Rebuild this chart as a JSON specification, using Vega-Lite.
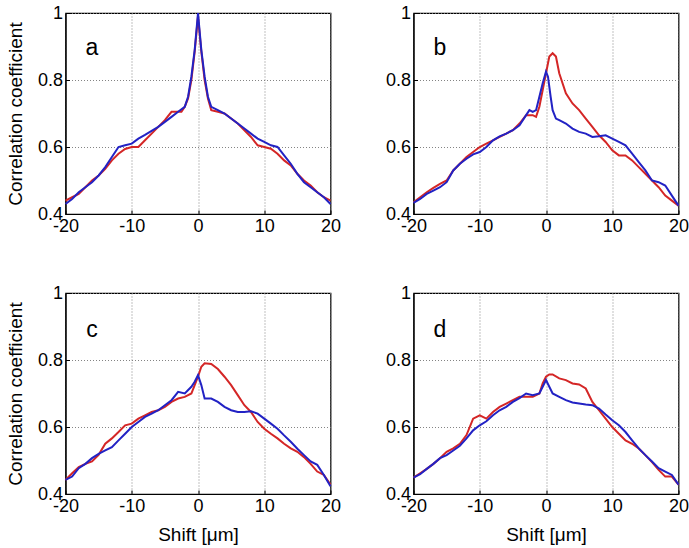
{
  "$schema": "https://vega.github.io/schema/vega-lite/v6.json",
  "background": "white",
  "padding": {"left": 5.5, "top": 3, "right": 0, "bottom": 0},
  "columns": 2,
  "spacing": {"row": 79, "column": 83},
  "bounds": "flush",
  "datasets": {
    "curves": [
      {"panel":"a","series":"red","x":-20,"y":0.44},{"panel":"a","series":"red","x":-19,"y":0.45},{"panel":"a","series":"red","x":-18,"y":0.46},{"panel":"a","series":"red","x":-17,"y":0.48},{"panel":"a","series":"red","x":-16,"y":0.5},{"panel":"a","series":"red","x":-15,"y":0.515},{"panel":"a","series":"red","x":-14,"y":0.535},{"panel":"a","series":"red","x":-13,"y":0.56},{"panel":"a","series":"red","x":-12,"y":0.58},{"panel":"a","series":"red","x":-11,"y":0.594},{"panel":"a","series":"red","x":-10,"y":0.6},{"panel":"a","series":"red","x":-9,"y":0.6},{"panel":"a","series":"red","x":-8,"y":0.62},{"panel":"a","series":"red","x":-7,"y":0.64},{"panel":"a","series":"red","x":-6,"y":0.66},{"panel":"a","series":"red","x":-5,"y":0.68},{"panel":"a","series":"red","x":-4,"y":0.705},{"panel":"a","series":"red","x":-3,"y":0.705},{"panel":"a","series":"red","x":-2.5,"y":0.705},{"panel":"a","series":"red","x":-2,"y":0.72},{"panel":"a","series":"red","x":-1.5,"y":0.745},{"panel":"a","series":"red","x":-1,"y":0.8},{"panel":"a","series":"red","x":-0.5,"y":0.885},{"panel":"a","series":"red","x":0,"y":0.99},{"panel":"a","series":"red","x":0.5,"y":0.885},{"panel":"a","series":"red","x":1,"y":0.8},{"panel":"a","series":"red","x":1.5,"y":0.745},{"panel":"a","series":"red","x":2,"y":0.71},{"panel":"a","series":"red","x":3,"y":0.705},{"panel":"a","series":"red","x":4,"y":0.7},{"panel":"a","series":"red","x":5,"y":0.685},{"panel":"a","series":"red","x":6,"y":0.67},{"panel":"a","series":"red","x":7,"y":0.65},{"panel":"a","series":"red","x":8,"y":0.63},{"panel":"a","series":"red","x":9,"y":0.605},{"panel":"a","series":"red","x":10,"y":0.6},{"panel":"a","series":"red","x":11,"y":0.595},{"panel":"a","series":"red","x":12,"y":0.58},{"panel":"a","series":"red","x":13,"y":0.56},{"panel":"a","series":"red","x":14,"y":0.545},{"panel":"a","series":"red","x":15,"y":0.52},{"panel":"a","series":"red","x":16,"y":0.5},{"panel":"a","series":"red","x":17,"y":0.485},{"panel":"a","series":"red","x":18,"y":0.465},{"panel":"a","series":"red","x":19,"y":0.45},{"panel":"a","series":"red","x":20,"y":0.44},

      {"panel":"a","series":"blue","x":-20,"y":0.43},{"panel":"a","series":"blue","x":-19,"y":0.445},{"panel":"a","series":"blue","x":-18,"y":0.465},{"panel":"a","series":"blue","x":-17,"y":0.48},{"panel":"a","series":"blue","x":-16,"y":0.495},{"panel":"a","series":"blue","x":-15,"y":0.515},{"panel":"a","series":"blue","x":-14,"y":0.54},{"panel":"a","series":"blue","x":-13,"y":0.57},{"panel":"a","series":"blue","x":-12,"y":0.6},{"panel":"a","series":"blue","x":-11,"y":0.605},{"panel":"a","series":"blue","x":-10,"y":0.61},{"panel":"a","series":"blue","x":-9,"y":0.625},{"panel":"a","series":"blue","x":-8,"y":0.636},{"panel":"a","series":"blue","x":-7,"y":0.648},{"panel":"a","series":"blue","x":-6,"y":0.66},{"panel":"a","series":"blue","x":-5,"y":0.675},{"panel":"a","series":"blue","x":-4,"y":0.69},{"panel":"a","series":"blue","x":-3,"y":0.705},{"panel":"a","series":"blue","x":-2,"y":0.72},{"panel":"a","series":"blue","x":-1.5,"y":0.75},{"panel":"a","series":"blue","x":-1,"y":0.81},{"panel":"a","series":"blue","x":-0.5,"y":0.89},{"panel":"a","series":"blue","x":0,"y":1.0},{"panel":"a","series":"blue","x":0.5,"y":0.89},{"panel":"a","series":"blue","x":1,"y":0.81},{"panel":"a","series":"blue","x":1.5,"y":0.75},{"panel":"a","series":"blue","x":2,"y":0.72},{"panel":"a","series":"blue","x":3,"y":0.71},{"panel":"a","series":"blue","x":4,"y":0.7},{"panel":"a","series":"blue","x":5,"y":0.685},{"panel":"a","series":"blue","x":6,"y":0.67},{"panel":"a","series":"blue","x":7,"y":0.655},{"panel":"a","series":"blue","x":8,"y":0.64},{"panel":"a","series":"blue","x":9,"y":0.625},{"panel":"a","series":"blue","x":10,"y":0.615},{"panel":"a","series":"blue","x":11,"y":0.605},{"panel":"a","series":"blue","x":12,"y":0.6},{"panel":"a","series":"blue","x":13,"y":0.575},{"panel":"a","series":"blue","x":14,"y":0.55},{"panel":"a","series":"blue","x":15,"y":0.52},{"panel":"a","series":"blue","x":16,"y":0.495},{"panel":"a","series":"blue","x":17,"y":0.48},{"panel":"a","series":"blue","x":18,"y":0.465},{"panel":"a","series":"blue","x":19,"y":0.45},{"panel":"a","series":"blue","x":20,"y":0.43},

      {"panel":"b","series":"red","x":-20,"y":0.435},{"panel":"b","series":"red","x":-19,"y":0.45},{"panel":"b","series":"red","x":-18,"y":0.465},{"panel":"b","series":"red","x":-17,"y":0.478},{"panel":"b","series":"red","x":-16,"y":0.49},{"panel":"b","series":"red","x":-15,"y":0.5},{"panel":"b","series":"red","x":-14,"y":0.53},{"panel":"b","series":"red","x":-13,"y":0.55},{"panel":"b","series":"red","x":-12,"y":0.57},{"panel":"b","series":"red","x":-11,"y":0.585},{"panel":"b","series":"red","x":-10,"y":0.6},{"panel":"b","series":"red","x":-9,"y":0.61},{"panel":"b","series":"red","x":-8,"y":0.62},{"panel":"b","series":"red","x":-7,"y":0.63},{"panel":"b","series":"red","x":-6,"y":0.64},{"panel":"b","series":"red","x":-5,"y":0.65},{"panel":"b","series":"red","x":-4,"y":0.67},{"panel":"b","series":"red","x":-3,"y":0.695},{"panel":"b","series":"red","x":-2,"y":0.695},{"panel":"b","series":"red","x":-1.5,"y":0.69},{"panel":"b","series":"red","x":-1,"y":0.72},{"panel":"b","series":"red","x":-0.5,"y":0.77},{"panel":"b","series":"red","x":0,"y":0.82},{"panel":"b","series":"red","x":0.5,"y":0.87},{"panel":"b","series":"red","x":1,"y":0.88},{"panel":"b","series":"red","x":1.5,"y":0.87},{"panel":"b","series":"red","x":2,"y":0.82},{"panel":"b","series":"red","x":3,"y":0.76},{"panel":"b","series":"red","x":4,"y":0.73},{"panel":"b","series":"red","x":5,"y":0.71},{"panel":"b","series":"red","x":6,"y":0.685},{"panel":"b","series":"red","x":7,"y":0.66},{"panel":"b","series":"red","x":8,"y":0.635},{"panel":"b","series":"red","x":9,"y":0.615},{"panel":"b","series":"red","x":10,"y":0.59},{"panel":"b","series":"red","x":11,"y":0.575},{"panel":"b","series":"red","x":12,"y":0.575},{"panel":"b","series":"red","x":13,"y":0.56},{"panel":"b","series":"red","x":14,"y":0.54},{"panel":"b","series":"red","x":15,"y":0.52},{"panel":"b","series":"red","x":16,"y":0.5},{"panel":"b","series":"red","x":17,"y":0.48},{"panel":"b","series":"red","x":18,"y":0.455},{"panel":"b","series":"red","x":19,"y":0.44},{"panel":"b","series":"red","x":20,"y":0.425},

      {"panel":"b","series":"blue","x":-20,"y":0.433},{"panel":"b","series":"blue","x":-19,"y":0.445},{"panel":"b","series":"blue","x":-18,"y":0.46},{"panel":"b","series":"blue","x":-17,"y":0.47},{"panel":"b","series":"blue","x":-16,"y":0.48},{"panel":"b","series":"blue","x":-15,"y":0.495},{"panel":"b","series":"blue","x":-14,"y":0.53},{"panel":"b","series":"blue","x":-13,"y":0.55},{"panel":"b","series":"blue","x":-12,"y":0.565},{"panel":"b","series":"blue","x":-11,"y":0.578},{"panel":"b","series":"blue","x":-10,"y":0.585},{"panel":"b","series":"blue","x":-9,"y":0.6},{"panel":"b","series":"blue","x":-8,"y":0.62},{"panel":"b","series":"blue","x":-7,"y":0.632},{"panel":"b","series":"blue","x":-6,"y":0.64},{"panel":"b","series":"blue","x":-5,"y":0.65},{"panel":"b","series":"blue","x":-4,"y":0.665},{"panel":"b","series":"blue","x":-3,"y":0.695},{"panel":"b","series":"blue","x":-2.5,"y":0.71},{"panel":"b","series":"blue","x":-2,"y":0.705},{"panel":"b","series":"blue","x":-1.5,"y":0.71},{"panel":"b","series":"blue","x":-1,"y":0.75},{"panel":"b","series":"blue","x":-0.5,"y":0.79},{"panel":"b","series":"blue","x":0,"y":0.825},{"panel":"b","series":"blue","x":0.3,"y":0.81},{"panel":"b","series":"blue","x":0.7,"y":0.75},{"panel":"b","series":"blue","x":1,"y":0.71},{"panel":"b","series":"blue","x":1.5,"y":0.685},{"panel":"b","series":"blue","x":2,"y":0.68},{"panel":"b","series":"blue","x":3,"y":0.67},{"panel":"b","series":"blue","x":4,"y":0.655},{"panel":"b","series":"blue","x":5,"y":0.645},{"panel":"b","series":"blue","x":6,"y":0.64},{"panel":"b","series":"blue","x":7,"y":0.63},{"panel":"b","series":"blue","x":8,"y":0.632},{"panel":"b","series":"blue","x":9,"y":0.635},{"panel":"b","series":"blue","x":10,"y":0.625},{"panel":"b","series":"blue","x":11,"y":0.615},{"panel":"b","series":"blue","x":12,"y":0.605},{"panel":"b","series":"blue","x":13,"y":0.58},{"panel":"b","series":"blue","x":14,"y":0.555},{"panel":"b","series":"blue","x":15,"y":0.53},{"panel":"b","series":"blue","x":16,"y":0.5},{"panel":"b","series":"blue","x":17,"y":0.495},{"panel":"b","series":"blue","x":18,"y":0.485},{"panel":"b","series":"blue","x":19,"y":0.455},{"panel":"b","series":"blue","x":20,"y":0.425},

      {"panel":"c","series":"red","x":-20,"y":0.442},{"panel":"c","series":"red","x":-19,"y":0.462},{"panel":"c","series":"red","x":-18,"y":0.48},{"panel":"c","series":"red","x":-17,"y":0.49},{"panel":"c","series":"red","x":-16,"y":0.497},{"panel":"c","series":"red","x":-15,"y":0.517},{"panel":"c","series":"red","x":-14,"y":0.55},{"panel":"c","series":"red","x":-13,"y":0.566},{"panel":"c","series":"red","x":-12,"y":0.585},{"panel":"c","series":"red","x":-11,"y":0.605},{"panel":"c","series":"red","x":-10,"y":0.61},{"panel":"c","series":"red","x":-9,"y":0.625},{"panel":"c","series":"red","x":-8,"y":0.635},{"panel":"c","series":"red","x":-7,"y":0.645},{"panel":"c","series":"red","x":-6,"y":0.65},{"panel":"c","series":"red","x":-5,"y":0.66},{"panel":"c","series":"red","x":-4,"y":0.675},{"panel":"c","series":"red","x":-3,"y":0.685},{"panel":"c","series":"red","x":-2,"y":0.69},{"panel":"c","series":"red","x":-1,"y":0.7},{"panel":"c","series":"red","x":-0.5,"y":0.725},{"panel":"c","series":"red","x":0,"y":0.75},{"panel":"c","series":"red","x":0.5,"y":0.78},{"panel":"c","series":"red","x":1,"y":0.79},{"panel":"c","series":"red","x":2,"y":0.788},{"panel":"c","series":"red","x":3,"y":0.773},{"panel":"c","series":"red","x":4,"y":0.75},{"panel":"c","series":"red","x":5,"y":0.725},{"panel":"c","series":"red","x":6,"y":0.695},{"panel":"c","series":"red","x":7,"y":0.665},{"panel":"c","series":"red","x":8,"y":0.645},{"panel":"c","series":"red","x":9,"y":0.615},{"panel":"c","series":"red","x":10,"y":0.595},{"panel":"c","series":"red","x":11,"y":0.58},{"panel":"c","series":"red","x":12,"y":0.566},{"panel":"c","series":"red","x":13,"y":0.55},{"panel":"c","series":"red","x":14,"y":0.536},{"panel":"c","series":"red","x":15,"y":0.526},{"panel":"c","series":"red","x":16,"y":0.51},{"panel":"c","series":"red","x":17,"y":0.49},{"panel":"c","series":"red","x":18,"y":0.467},{"panel":"c","series":"red","x":19,"y":0.457},{"panel":"c","series":"red","x":20,"y":0.428},

      {"panel":"c","series":"blue","x":-20,"y":0.442},{"panel":"c","series":"blue","x":-19,"y":0.452},{"panel":"c","series":"blue","x":-18,"y":0.477},{"panel":"c","series":"blue","x":-17,"y":0.49},{"panel":"c","series":"blue","x":-16,"y":0.507},{"panel":"c","series":"blue","x":-15,"y":0.52},{"panel":"c","series":"blue","x":-14,"y":0.53},{"panel":"c","series":"blue","x":-13,"y":0.54},{"panel":"c","series":"blue","x":-12,"y":0.56},{"panel":"c","series":"blue","x":-11,"y":0.58},{"panel":"c","series":"blue","x":-10,"y":0.6},{"panel":"c","series":"blue","x":-9,"y":0.615},{"panel":"c","series":"blue","x":-8,"y":0.63},{"panel":"c","series":"blue","x":-7,"y":0.64},{"panel":"c","series":"blue","x":-6,"y":0.65},{"panel":"c","series":"blue","x":-5,"y":0.665},{"panel":"c","series":"blue","x":-4,"y":0.68},{"panel":"c","series":"blue","x":-3,"y":0.705},{"panel":"c","series":"blue","x":-2,"y":0.7},{"panel":"c","series":"blue","x":-1,"y":0.72},{"panel":"c","series":"blue","x":-0.5,"y":0.735},{"panel":"c","series":"blue","x":0,"y":0.755},{"panel":"c","series":"blue","x":0.5,"y":0.725},{"panel":"c","series":"blue","x":1,"y":0.685},{"panel":"c","series":"blue","x":2,"y":0.685},{"panel":"c","series":"blue","x":3,"y":0.675},{"panel":"c","series":"blue","x":4,"y":0.66},{"panel":"c","series":"blue","x":5,"y":0.65},{"panel":"c","series":"blue","x":6,"y":0.645},{"panel":"c","series":"blue","x":7,"y":0.645},{"panel":"c","series":"blue","x":8,"y":0.647},{"panel":"c","series":"blue","x":9,"y":0.64},{"panel":"c","series":"blue","x":10,"y":0.625},{"panel":"c","series":"blue","x":11,"y":0.61},{"panel":"c","series":"blue","x":12,"y":0.595},{"panel":"c","series":"blue","x":13,"y":0.575},{"panel":"c","series":"blue","x":14,"y":0.556},{"panel":"c","series":"blue","x":15,"y":0.535},{"panel":"c","series":"blue","x":16,"y":0.516},{"panel":"c","series":"blue","x":17,"y":0.497},{"panel":"c","series":"blue","x":18,"y":0.487},{"panel":"c","series":"blue","x":19,"y":0.457},{"panel":"c","series":"blue","x":20,"y":0.423},

      {"panel":"d","series":"red","x":-20,"y":0.449},{"panel":"d","series":"red","x":-19,"y":0.462},{"panel":"d","series":"red","x":-18,"y":0.475},{"panel":"d","series":"red","x":-17,"y":0.49},{"panel":"d","series":"red","x":-16,"y":0.507},{"panel":"d","series":"red","x":-15,"y":0.526},{"panel":"d","series":"red","x":-14,"y":0.536},{"panel":"d","series":"red","x":-13,"y":0.55},{"panel":"d","series":"red","x":-12,"y":0.576},{"panel":"d","series":"red","x":-11,"y":0.625},{"panel":"d","series":"red","x":-10,"y":0.635},{"panel":"d","series":"red","x":-9,"y":0.625},{"panel":"d","series":"red","x":-8,"y":0.645},{"panel":"d","series":"red","x":-7,"y":0.66},{"panel":"d","series":"red","x":-6,"y":0.67},{"panel":"d","series":"red","x":-5,"y":0.68},{"panel":"d","series":"red","x":-4,"y":0.69},{"panel":"d","series":"red","x":-3,"y":0.69},{"panel":"d","series":"red","x":-2,"y":0.69},{"panel":"d","series":"red","x":-1,"y":0.7},{"panel":"d","series":"red","x":-0.5,"y":0.73},{"panel":"d","series":"red","x":0,"y":0.75},{"panel":"d","series":"red","x":0.5,"y":0.757},{"panel":"d","series":"red","x":1,"y":0.757},{"panel":"d","series":"red","x":2,"y":0.745},{"panel":"d","series":"red","x":3,"y":0.74},{"panel":"d","series":"red","x":4,"y":0.73},{"panel":"d","series":"red","x":5,"y":0.727},{"panel":"d","series":"red","x":6,"y":0.715},{"panel":"d","series":"red","x":7,"y":0.675},{"panel":"d","series":"red","x":8,"y":0.65},{"panel":"d","series":"red","x":9,"y":0.625},{"panel":"d","series":"red","x":10,"y":0.6},{"panel":"d","series":"red","x":11,"y":0.58},{"panel":"d","series":"red","x":12,"y":0.56},{"panel":"d","series":"red","x":13,"y":0.55},{"panel":"d","series":"red","x":14,"y":0.536},{"panel":"d","series":"red","x":15,"y":0.516},{"panel":"d","series":"red","x":16,"y":0.495},{"panel":"d","series":"red","x":17,"y":0.472},{"panel":"d","series":"red","x":18,"y":0.452},{"panel":"d","series":"red","x":19,"y":0.452},{"panel":"d","series":"red","x":20,"y":0.428},

      {"panel":"d","series":"blue","x":-20,"y":0.449},{"panel":"d","series":"blue","x":-19,"y":0.459},{"panel":"d","series":"blue","x":-18,"y":0.475},{"panel":"d","series":"blue","x":-17,"y":0.49},{"panel":"d","series":"blue","x":-16,"y":0.507},{"panel":"d","series":"blue","x":-15,"y":0.516},{"panel":"d","series":"blue","x":-14,"y":0.53},{"panel":"d","series":"blue","x":-13,"y":0.544},{"panel":"d","series":"blue","x":-12,"y":0.566},{"panel":"d","series":"blue","x":-11,"y":0.59},{"panel":"d","series":"blue","x":-10,"y":0.605},{"panel":"d","series":"blue","x":-9,"y":0.617},{"panel":"d","series":"blue","x":-8,"y":0.635},{"panel":"d","series":"blue","x":-7,"y":0.65},{"panel":"d","series":"blue","x":-6,"y":0.66},{"panel":"d","series":"blue","x":-5,"y":0.675},{"panel":"d","series":"blue","x":-4,"y":0.686},{"panel":"d","series":"blue","x":-3,"y":0.7},{"panel":"d","series":"blue","x":-2,"y":0.695},{"panel":"d","series":"blue","x":-1,"y":0.7},{"panel":"d","series":"blue","x":-0.5,"y":0.72},{"panel":"d","series":"blue","x":0,"y":0.74},{"panel":"d","series":"blue","x":0.5,"y":0.72},{"panel":"d","series":"blue","x":1,"y":0.7},{"panel":"d","series":"blue","x":2,"y":0.69},{"panel":"d","series":"blue","x":3,"y":0.68},{"panel":"d","series":"blue","x":4,"y":0.673},{"panel":"d","series":"blue","x":5,"y":0.67},{"panel":"d","series":"blue","x":6,"y":0.667},{"panel":"d","series":"blue","x":7,"y":0.665},{"panel":"d","series":"blue","x":8,"y":0.655},{"panel":"d","series":"blue","x":9,"y":0.637},{"panel":"d","series":"blue","x":10,"y":0.62},{"panel":"d","series":"blue","x":11,"y":0.605},{"panel":"d","series":"blue","x":12,"y":0.585},{"panel":"d","series":"blue","x":13,"y":0.56},{"panel":"d","series":"blue","x":14,"y":0.536},{"panel":"d","series":"blue","x":15,"y":0.516},{"panel":"d","series":"blue","x":16,"y":0.497},{"panel":"d","series":"blue","x":17,"y":0.477},{"panel":"d","series":"blue","x":18,"y":0.467},{"panel":"d","series":"blue","x":19,"y":0.457},{"panel":"d","series":"blue","x":20,"y":0.428}
    ]
  },
  "concat": [
    {
      "width": 265, "height": 201,
      "layer": [
        {
          "data": {"name": "curves"},
          "transform": [{"filter": "datum.panel === 'a'"}],
          "mark": {"type": "line", "strokeWidth": 2},
          "encoding": {
            "x": {"field": "x", "type": "quantitative", "scale": {"domain": [-20, 20], "nice": false}, "axis": {"values": [-20, -10, 0, 10, 20], "title": null, "labelExpr": "datum.value"}},
            "y": {"field": "y", "type": "quantitative", "scale": {"domain": [0.4, 1], "nice": false, "zero": false}, "axis": {"values": [0.4, 0.6, 0.8, 1], "title": "Correlation coefficient", "titlePadding": 12, "labelExpr": "datum.value"}},
            "color": {"field": "series", "type": "nominal", "scale": {"domain": ["red", "blue"], "range": ["#d42626", "#2222c4"]}, "legend": null},
            "order": {"field": "series", "sort": "descending"}
          }
        },
        {
          "data": {"values": [{"label": "a"}]},
          "mark": {"type": "text", "fontSize": 23, "font": "Liberation Sans", "color": "black", "align": "center", "baseline": "middle"},
          "encoding": {"x": {"datum": -16, "type": "quantitative"}, "y": {"datum": 0.895, "type": "quantitative"}, "text": {"field": "label"}}
        }
      ]
    },
    {
      "width": 265, "height": 201,
      "layer": [
        {
          "data": {"name": "curves"},
          "transform": [{"filter": "datum.panel === 'b'"}],
          "mark": {"type": "line", "strokeWidth": 2},
          "encoding": {
            "x": {"field": "x", "type": "quantitative", "scale": {"domain": [-20, 20], "nice": false}, "axis": {"values": [-20, -10, 0, 10, 20], "title": null, "labelExpr": "datum.value"}},
            "y": {"field": "y", "type": "quantitative", "scale": {"domain": [0.4, 1], "nice": false, "zero": false}, "axis": {"values": [0.4, 0.6, 0.8, 1], "title": null, "labelExpr": "datum.value"}},
            "color": {"field": "series", "type": "nominal", "scale": {"domain": ["red", "blue"], "range": ["#d42626", "#2222c4"]}, "legend": null},
            "order": {"field": "series", "sort": "descending"}
          }
        },
        {
          "data": {"values": [{"label": "b"}]},
          "mark": {"type": "text", "fontSize": 23, "font": "Liberation Sans", "color": "black", "align": "center", "baseline": "middle"},
          "encoding": {"x": {"datum": -16, "type": "quantitative"}, "y": {"datum": 0.895, "type": "quantitative"}, "text": {"field": "label"}}
        }
      ]
    },
    {
      "width": 265, "height": 201,
      "layer": [
        {
          "data": {"name": "curves"},
          "transform": [{"filter": "datum.panel === 'c'"}],
          "mark": {"type": "line", "strokeWidth": 2},
          "encoding": {
            "x": {"field": "x", "type": "quantitative", "scale": {"domain": [-20, 20], "nice": false}, "axis": {"values": [-20, -10, 0, 10, 20], "title": "Shift [μm]", "titlePadding": 10, "labelExpr": "datum.value"}},
            "y": {"field": "y", "type": "quantitative", "scale": {"domain": [0.4, 1], "nice": false, "zero": false}, "axis": {"values": [0.4, 0.6, 0.8, 1], "title": "Correlation coefficient", "titlePadding": 12, "labelExpr": "datum.value"}},
            "color": {"field": "series", "type": "nominal", "scale": {"domain": ["red", "blue"], "range": ["#d42626", "#2222c4"]}, "legend": null},
            "order": {"field": "series", "sort": "descending"}
          }
        },
        {
          "data": {"values": [{"label": "c"}]},
          "mark": {"type": "text", "fontSize": 23, "font": "Liberation Sans", "color": "black", "align": "center", "baseline": "middle"},
          "encoding": {"x": {"datum": -16, "type": "quantitative"}, "y": {"datum": 0.89, "type": "quantitative"}, "text": {"field": "label"}}
        }
      ]
    },
    {
      "width": 265, "height": 201,
      "layer": [
        {
          "data": {"name": "curves"},
          "transform": [{"filter": "datum.panel === 'd'"}],
          "mark": {"type": "line", "strokeWidth": 2},
          "encoding": {
            "x": {"field": "x", "type": "quantitative", "scale": {"domain": [-20, 20], "nice": false}, "axis": {"values": [-20, -10, 0, 10, 20], "title": "Shift [μm]", "titlePadding": 10, "labelExpr": "datum.value"}},
            "y": {"field": "y", "type": "quantitative", "scale": {"domain": [0.4, 1], "nice": false, "zero": false}, "axis": {"values": [0.4, 0.6, 0.8, 1], "title": null, "labelExpr": "datum.value"}},
            "color": {"field": "series", "type": "nominal", "scale": {"domain": ["red", "blue"], "range": ["#d42626", "#2222c4"]}, "legend": null},
            "order": {"field": "series", "sort": "descending"}
          }
        },
        {
          "data": {"values": [{"label": "d"}]},
          "mark": {"type": "text", "fontSize": 23, "font": "Liberation Sans", "color": "black", "align": "center", "baseline": "middle"},
          "encoding": {"x": {"datum": -16, "type": "quantitative"}, "y": {"datum": 0.89, "type": "quantitative"}, "text": {"field": "label"}}
        }
      ]
    }
  ],
  "resolve": {"scale": {"color": "shared"}},
  "config": {
    "font": "Liberation Sans",
    "view": {"stroke": "black", "strokeWidth": 1.2},
    "axis": {
      "labelFont": "Liberation Sans",
      "labelFontSize": 18,
      "labelColor": "black",
      "labelPadding": 7,
      "labelFlush": false,
      "labelOverlap": false,
      "titleFont": "Liberation Sans",
      "titleFontSize": 19,
      "titleFontWeight": "normal",
      "titleColor": "black",
      "titlePadding": 6,
      "domainColor": "black",
      "domainWidth": 1.2,
      "ticks": true,
      "tickSize": -4,
      "tickColor": "black",
      "tickWidth": 1,
      "grid": true,
      "gridColor": "#777777",
      "gridDash": [1, 2],
      "gridWidth": 1,
      "gridOpacity": 0.9
    }
  }
}
